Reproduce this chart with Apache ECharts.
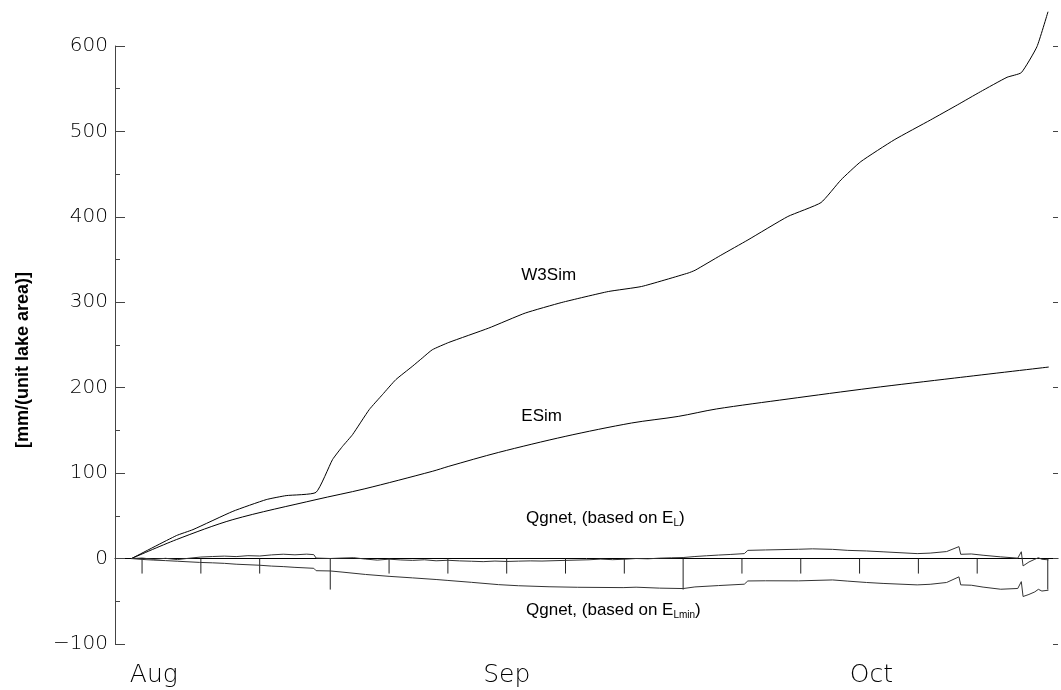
<!DOCTYPE html>
<html><head><meta charset="utf-8">
<script src="https://cdn.jsdelivr.net/npm/echarts@6/dist/echarts.min.js"></script>
<style>html,body{margin:0;padding:0;background:#fff}#c{width:1061px;height:690px}</style>
</head><body><div id="c"></div>
<script>
// x = day number counted from 1 August (1 Aug = 1, 1 Sep = 32, 1 Oct = 62, 1 Nov = 93)
const w3simDays   = [15.1,18.92,20.33,23.72,26.55,28.25,30.79,32.19,33.04,33.89,35.31,36.43,37.57,38.97,39.82,40.67,42.08,45.47,48.58,51.69,55.64,58.47,62.42,63.02,65.2,67.51,70.9,73.72,75.42,77.11,79.94,83.04,85.31,87.28,89.54,90.75,92.08,93.02];
const w3simValues = [0,26.9,33.9,55.3,69.0,73.7,77.5,115.8,131.3,145.0,174.3,191.8,209.4,224.9,234.7,244.4,253.0,269.8,287.4,299.8,312.6,318.5,334.2,337.5,355,373,400.4,416.7,443.3,464.7,490.1,513.5,531,546.5,563.4,568.8,599.2,640.1];

const esimDays   = [15.1,18.92,23.72,30.79,34.88,40.67,42.08,46.32,51.97,57.62,61.58,64.82,70.92,77.97,85.08,93.08];
const esimValues = [0,22.2,45.6,69,81.5,102.1,108,124.3,143,158.7,166.4,175.1,186.8,199.6,211.3,224.2];

const qgnetELDays   = [15.1,16,17,18,19,20,21,22,23,24,25,26,27,28,29,30,30.6,30.8,32,33,34,35,36,37,38,39,40,41,42,43,44,45,46,47,48,49,50,52,54,55,56,57,58,59,60,61,62,63,64,65,66,67.2,67.5,69,71.8,73,74.7,76,77.6,79,81.9,83,84.4,85.45,85.6,86.5,87.5,89,90.45,90.75,90.9,91.4,91.9,92.2,92.5,93.06];
const qgnetELValues = [0,0.6,-0.8,0.3,-1.2,0.4,1.8,2.4,2.9,2.3,3.4,3.0,4.3,5.1,4.4,5.2,4.6,0.6,0.1,0.6,1.0,-0.6,-1.8,-0.7,-1.6,-2.1,-1.4,-2.6,-2.0,-2.7,-3.1,-3.6,-2.9,-3.4,-3.0,-2.7,-2.9,-2.1,-1.4,-0.6,-1.3,-0.8,0.1,-0.3,0.5,0.9,1.2,2.4,3.3,4.1,4.8,5.8,9.6,10.1,10.9,11.4,10.8,9.6,8.9,7.9,5.8,6.4,8.2,14.0,5.0,5.4,3.9,2.0,0.5,8.0,-8.6,-4.0,-0.8,1.0,-0.8,-1.5];

const qgnetELminDays   = [15.1,16,17,18,19,20.9,22,23,24,26,27,28,29,30.6,30.8,32,33,35,37,39,41,42,44,46.3,48,50.6,53,56.9,58,60,62,63,65,67.2,67.5,69,71.8,74.7,76,77.6,79,81.9,83,84.4,85.45,85.6,86.5,87.5,89,90.45,90.75,90.9,91.4,91.9,92.2,92.5,93.06];
const qgnetELminValues = [0,-1.0,-1.8,-2.4,-3.1,-4.5,-5.0,-5.6,-6.6,-7.8,-8.8,-9.4,-10.3,-11.4,-14.2,-14.5,-15.8,-18.6,-20.8,-22.6,-24.5,-25.6,-27.8,-30.5,-31.8,-33.0,-33.6,-34.0,-33.5,-34.6,-35.1,-33.2,-31.6,-30.0,-26.2,-26.0,-26.1,-25.0,-26.4,-28.0,-29.1,-30.8,-30.1,-28.0,-21.4,-30.8,-31.2,-33.4,-35.9,-35.0,-27.0,-44.4,-42.0,-39.0,-36.0,-38.0,-37.0];

// x-axis tick marks (every 5 days from the 1st of each month) and month labels
const xTickDays = [16,21,26,32,37,42,47,52,57,62,67,72,77,82,87,93];
const monthStartDays = [32,62,93];
const monthLabelDays = [17,47,78];
const monthLabels = ['Aug','Sep','Oct'];

const yMin = -100, yMax = 600, yStep = 100;
const xMin = 13.7, xMax = 93.87;

const pairs = (xs, ys) => xs.map((x, i) => [x, ys[i]]);
const tickFont = "'DejaVu Sans', sans-serif";
const textFont = "'Liberation Sans', Arial, sans-serif";

const chart = echarts.init(document.getElementById('c'), null, {renderer: 'canvas'});
const lineBase = {type: 'line', showSymbol: false, symbol: 'none', clip: false, silent: true,
  xAxisIndex: 0, yAxisIndex: 0};
function note(coord, text) {
  return {symbol: 'circle', symbolSize: 1, itemStyle: {color: 'rgba(0,0,0,0)'}, silent: true,
    label: {show: true, position: 'right', distance: 0, color: '#000', fontFamily: textFont, fontSize: 17,
      formatter: text,
      rich: {sub: {fontFamily: textFont, fontSize: 10, color: '#000', padding: [10, 0, 0, 0], verticalAlign: 'middle'}}},
    data: [{coord: coord}]};
}

chart.setOption({
  animation: false,
  backgroundColor: '#fff',
  grid: {left: 115, right: 0, top: 46, bottom: 46, containLabel: false},
  xAxis: [
    {type: 'value', min: xMin, max: xMax, position: 'bottom',
      axisLine: {show: true, onZero: true, lineStyle: {color: '#000', width: 1}},
      axisTick: {show: false}, axisLabel: {show: false}, splitLine: {show: false}},
    {type: 'value', min: xMin, max: xMax, interval: 0.1, position: 'bottom',
      axisLine: {show: false}, axisTick: {show: false}, splitLine: {show: false},
      axisLabel: {show: true, margin: 19, color: '#000', fontFamily: tickFont, fontSize: 25, fontWeight: 200,
        hideOverlap: false, showMinLabel: true, showMaxLabel: true,
        formatter: v => { const i = monthLabelDays.findIndex(d => Math.abs(d - v) < 0.01); return i >= 0 ? monthLabels[i] : ''; }}}
  ],
  yAxis: [
    {type: 'value', min: yMin, max: yMax, interval: yStep, position: 'left',
      name: '[mm/(unit lake area)]', nameLocation: 'middle', nameGap: 83, nameRotate: 90,
      nameTextStyle: {fontFamily: textFont, fontWeight: 'bold', fontSize: 18, color: '#000', padding: [0, 30, 0, 0]},
      axisLine: {show: true, onZero: false, lineStyle: {color: '#444', width: 1}},
      axisTick: {show: true, inside: true, length: 10, lineStyle: {color: '#444'}},
      minorTick: {show: true, splitNumber: 2, length: 5, lineStyle: {color: '#444'}},
      axisLabel: {margin: 7, color: '#000', fontFamily: tickFont, fontSize: 20, fontWeight: 200,
        formatter: v => (v < 0 ? '\u2212' + Math.abs(v) : String(v))},
      splitLine: {show: false}},
    {type: 'value', min: yMin, max: yMax, interval: yStep, position: 'right',
      axisLine: {show: false}, axisTick: {show: true, inside: true, length: 5, lineStyle: {color: '#444'}},
      axisLabel: {show: false}, splitLine: {show: false}}
  ],
  series: [
    Object.assign({}, lineBase, {name: 'W3Sim', data: pairs(w3simDays, w3simValues), smooth: 0.15,
      lineStyle: {color: '#000', width: 1}, markPoint: note([48.2, 331], 'W3Sim')}),
    Object.assign({}, lineBase, {name: 'ESim', data: pairs(esimDays, esimValues), smooth: 0.3,
      lineStyle: {color: '#000', width: 1}, markPoint: note([48.2, 167], 'ESim')}),
    Object.assign({}, lineBase, {name: 'Qgnet EL', data: pairs(qgnetELDays, qgnetELValues),
      lineStyle: {color: '#333', width: 1}, markPoint: note([48.6, 47], 'Qgnet, (based on E{sub|L})')}),
    Object.assign({}, lineBase, {name: 'Qgnet ELmin', data: pairs(qgnetELminDays, qgnetELminValues),
      lineStyle: {color: '#333', width: 1}, markPoint: note([48.6, -60.5], 'Qgnet, (based on E{sub|Lmin})')}),
    {type: 'custom', name: 'xticks', xAxisIndex: 0, yAxisIndex: 0, silent: true, clip: false,
      data: xTickDays.map(d => [d, monthStartDays.includes(d) ? 1 : 0]),
      encode: {x: 0, y: 1},
      renderItem: (params, api) => {
        const p = api.coord([api.value(0), 0]);
        const len = api.value(1) ? 31 : 15;
        return {type: 'line', shape: {x1: p[0], y1: p[1], x2: p[0], y2: p[1] + len},
          style: {stroke: '#222', lineWidth: 1}};
      }}
  ]
});
</script></body></html>
